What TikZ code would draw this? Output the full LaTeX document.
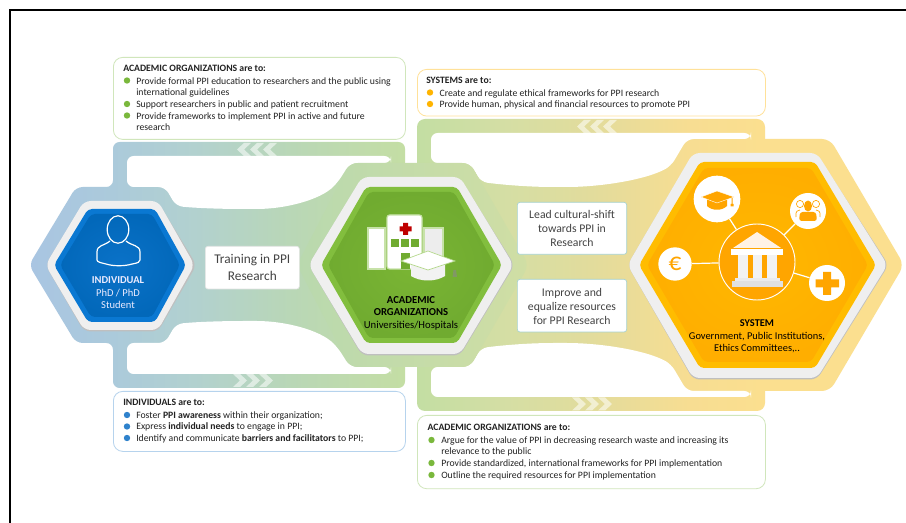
\documentclass[tikz,border=0pt]{standalone}
\usepackage{fontspec}
\setmainfont{Carlito}
\usetikzlibrary{calc}
\definecolor{blA}{HTML}{A9C5E2}
\definecolor{blB}{HTML}{ABCADB}
\definecolor{blC}{HTML}{B2D1CF}
\definecolor{blD}{HTML}{B9D7B6}
\definecolor{blE}{HTML}{C4DEA4}
\definecolor{rgA}{HTML}{C3DEA3}
\definecolor{rgB}{HTML}{D5DEA4}
\definecolor{rgC}{HTML}{E2DC9C}
\definecolor{rgD}{HTML}{F7DD92}
\definecolor{rgE}{HTML}{FBDF8F}
\definecolor{midL}{HTML}{B9D9AE}
\definecolor{midR}{HTML}{D0DEA4}
\definecolor{halo}{HTML}{EFEFEF}
\definecolor{blueo}{HTML}{0A78D2}
\definecolor{bluei}{HTML}{0268BA}
\definecolor{bluec}{HTML}{0A72C8}
\definecolor{greeno}{HTML}{82BE3E}
\definecolor{greeni}{HTML}{70AB30}
\definecolor{greenc}{HTML}{7AB534}
\definecolor{yello}{HTML}{FFBC00}
\definecolor{yelli}{HTML}{FFAE00}
\definecolor{yellc}{HTML}{FFB800}
\definecolor{orng}{HTML}{FFA500}
\definecolor{bltxt}{HTML}{2F82CC}
\definecolor{grtxt}{HTML}{7AB83C}
\definecolor{ortxt}{HTML}{FFB400}
\definecolor{txt}{HTML}{222222}
\pgfdeclarehorizontalshading{bandleft}{100bp}{color(0bp)=(blA); color(25bp)=(blA); color(36bp)=(blB); color(47bp)=(blC); color(60bp)=(blD); color(75bp)=(blE); color(100bp)=(blE)}
\pgfdeclarehorizontalshading{bandright}{100bp}{color(0bp)=(rgA); color(25bp)=(rgA); color(38bp)=(rgB); color(50bp)=(rgC); color(64bp)=(rgD); color(75bp)=(rgE); color(100bp)=(rgE)}
\tikzset{
  x=0.75pt,y=-0.75pt,
  infobox/.style={draw,line width=0.6pt,fill=white,rounded corners=7pt},
  tagbox/.style={fill=white,rounded corners=2pt,draw=#1,line width=0.5pt},
  listtext/.style={anchor=north west,inner sep=0pt,align=left,font=\fontsize{7.3}{8.75}\selectfont,text=txt},
  blt/.style={circle,fill=#1,inner sep=0pt,minimum size=4.8pt},
  hexlabel/.style={align=center,inner sep=0pt,font=\fontsize{7.9}{9.4}\selectfont},
  tagtext/.style={align=center,inner sep=0pt,text=txt!85},
  chev/.style={fill=white,fill opacity=0.55},
  link/.style={draw=white,line width=0.9pt},
  disc/.style={circle,fill=white,inner sep=0pt},
  rim/.style={draw=greeno!45!white,line width=0.9pt},
}
\newcommand{\hexagon}[6]{(#1,265) -- (#2,#3) -- (#4,#3) -- (#5,265) -- (#4,#6) -- (#2,#6) -- cycle}
\newcommand{\chevL}[2]{(#1,#2) -- (#1+7,#2) -- (#1,#2+6.5) -- (#1+7,#2+13) -- (#1,#2+13) -- (#1-7,#2+6.5) -- cycle}
\newcommand{\chevR}[2]{(#1,#2) -- (#1+7,#2) -- (#1+14,#2+6.5) -- (#1+7,#2+13) -- (#1,#2+13) -- (#1+7,#2+6.5) -- cycle}
\begin{document}
\begin{tikzpicture}
\useasboundingbox (0,0) rectangle (906,523);
\fill[white] (0,0) rectangle (906,523);
% frame
\coordinate (fa) at (9.5,523);
\coordinate (fb) at (9.5,10.3);
\coordinate (fc) at (906,10.3);
\draw[black,line width=1.5pt] (fa) -- (fb) -- (fc);

% left band
\path[shading=bandleft,rounded corners=5pt]
  (29,265) -- (76,187) -- (113,187) -- (113,142) -- (405,142) -- (405,388) -- (113,388) -- (113,343) -- (76,343) -- cycle;
\fill[white,rounded corners=5pt] (127,156) -- (391,156) -- (391,163) -- (350,163) -- (338,182)
  .. controls (320,200) and (285,209) .. (250,209) .. controls (220,209) and (195,208) .. (176,206) -- (165,187) -- (127,187) -- cycle;
\fill[white,rounded corners=5pt] (127,374) -- (391,374) -- (391,367) -- (350,367) -- (338,348)
  .. controls (320,330) and (285,321) .. (250,321) .. controls (220,321) and (195,322) .. (176,324) -- (165,343) -- (127,343) -- cycle;

% right outer hexagon, then right band over it
\fill[rgE,rounded corners=6pt] (616,265) -- (687,139) -- (830,139) -- (904,265) -- (830,391) -- (687,391) -- cycle;
\path[shading=bandright,rounded corners=6pt]
  (417,119) -- (765,119) -- (765,411) -- (417,411) -- cycle;
\fill[white,rounded corners=5pt] (431,133) -- (751,133) -- (751,139) -- (687,139) -- (671,166)
  .. controls (645,180) and (600,187) .. (560,187) .. controls (530,187) and (505,185) .. (481,182) -- (470,163) -- (431,163) -- cycle;
\fill[white,rounded corners=5pt] (431,397) -- (751,397) -- (751,391) -- (687,391) -- (671,364)
  .. controls (645,350) and (600,343) .. (560,343) .. controls (530,343) and (505,345) .. (481,348) -- (470,367) -- (431,367) -- cycle;

% chevrons
\foreach \cx in {244,257,270} \fill[chev] \chevL{\cx}{143};
\foreach \cx in {584,597,610} \fill[chev] \chevL{\cx}{120};
\foreach \cx in {233,246,259} \fill[chev] \chevR{\cx}{374};
\foreach \cx in {572,585,598} \fill[chev] \chevR{\cx}{397.5};

% centre outer hexagon
\path[left color=midL,right color=midR,rounded corners=6pt] \hexagon{297}{350}{163}{470}{529}{367};

% left hex
\fill[black!25,rounded corners=5pt] \hexagon{45.5}{84}{202}{158}{196.5}{331.5};
\fill[halo,rounded corners=5pt] \hexagon{45.5}{84}{201}{158}{194.5}{330};
\fill[blueo,rounded corners=3pt] \hexagon{54}{88}{209}{155}{186}{322};
\path[inner color=bluec,outer color=bluei,rounded corners=3pt] \hexagon{60}{91}{214}{152}{180}{317};
% centre hex
\fill[black!25,rounded corners=5pt] \hexagon{308.5}{362}{178}{460}{514.5}{355.5};
\fill[halo,rounded corners=5pt] \hexagon{308.5}{362}{177}{460}{513.5}{354};
\fill[greeno,rounded corners=3pt] \hexagon{321}{366}{187}{457}{502}{343};
\path[inner color=greenc,outer color=greeni,rounded corners=3pt] \hexagon{328}{369}{192}{454}{495}{338};
% right hex
\fill[black!25,rounded corners=5pt] \hexagon{627.5}{693}{154}{817}{888.5}{379.5};
\fill[halo,rounded corners=5pt] \hexagon{627.5}{693}{153}{817}{887.5}{378};
\fill[yello,rounded corners=3pt] \hexagon{639}{700}{162}{815}{876}{368};
\path[inner color=yellc,outer color=yelli,rounded corners=3pt] \hexagon{647}{704}{168}{811}{868}{362};

% info boxes
\node[infobox,draw=grtxt!35,minimum width=219pt,minimum height=61.5pt,anchor=north west] (boxA) at (113,57) {};
\node[infobox,draw=bltxt!35,minimum width=219pt,minimum height=45pt,anchor=north west] (boxB) at (113,391) {};
\node[infobox,draw=ortxt!40,minimum width=261pt,minimum height=35pt,anchor=north west] (boxC) at (417,69) {};
\node[infobox,draw=grtxt!35,minimum width=261pt,minimum height=55pt,anchor=north west] (boxD) at (417,415) {};

\node[listtext] (headA) at (123,64.8) {\textbf{ACADEMIC ORGANIZATIONS are to:}};
\node[listtext] (listA) at (136,77) {Provide formal PPI education to researchers and the public using\\international guidelines\\Support researchers in public and patient recruitment\\Provide frameworks to implement PPI in active and future\\research};
\foreach \by/\bn in {80.5/a1,104/a2,115.5/a3} \node[blt=grtxt] (\bn) at (127,\by) {};

\node[listtext] (headB) at (123,399) {\textbf{INDIVIDUALS are to:}};
\node[listtext] (listB) at (136,411.3) {Foster \textbf{PPI awareness} within their organization;\\Express \textbf{individual needs} to engage in PPI;\\Identify and communicate \textbf{barriers and facilitators} to PPI;};
\foreach \by/\bn in {415/b1,426.5/b2,438/b3} \node[blt=bltxt] (\bn) at (127,\by) {};

\node[listtext] (headC) at (426,77) {\textbf{SYSTEMS are to:}};
\node[listtext] (listC) at (439.3,89) {Create and regulate ethical frameworks for PPI research\\Provide human, physical and financial resources to promote PPI};
\foreach \by/\bn in {92.5/c1,104/c2} \node[blt=ortxt] (\bn) at (430,\by) {};

\node[listtext] (headD) at (427.3,424) {\textbf{ACADEMIC ORGANIZATIONS are to:}};
\node[listtext] (listD) at (441,436.3) {Argue for the value of PPI in decreasing research waste and increasing its\\relevance to the public\\Provide standardized, international frameworks for PPI implementation\\Outline the required resources for PPI implementation};
\foreach \by/\bn in {440/d1,463/d2,475/d3} \node[blt=grtxt] (\bn) at (431.5,\by) {};

% tag boxes
\node[tagbox=white!90!black,minimum width=70.5pt,minimum height=32pt,anchor=north west] (tagA) at (205,246) {};
\node[tagtext,font=\fontsize{10}{12.5}\selectfont] (tagAt) at (tagA.center) {Training in PPI\\Research};
\node[tagbox=teal!35,minimum width=82pt,minimum height=39pt,anchor=north west] (tagB) at (517,202) {};
\node[tagtext,font=\fontsize{8.8}{10.5}\selectfont] (tagBt) at (tagB.center) {Lead cultural-shift\\towards PPI in\\Research};
\node[tagbox=teal!35,minimum width=82pt,minimum height=39.5pt,anchor=north west] (tagC) at (517,279) {};
\node[tagtext,font=\fontsize{8.8}{10.5}\selectfont] (tagCt) at ([yshift=-0.6pt]tagC.center) {Improve and\\equalize resources\\for PPI Research};

% person icon
\draw[white,line width=0.9pt] (118,229.5) ellipse (10.8 and 13.7);
\draw[white,line width=0.9pt,rounded corners=3pt] (110,241) .. controls (104,246) and (97,245) .. (97,256)
  .. controls (97,262) and (102,263) .. (106,264) .. controls (114,266) and (124,266) .. (132,264)
  .. controls (137,263) and (140,262) .. (140,256) .. controls (140,245) and (132,246) .. (126,241);
\node[hexlabel,text=white!92!blue] (lblA) at (118,293) {\textbf{INDIVIDUAL}\\PhD / PhD\\Student};

% hospital icon
\fill[white,rim] (368,228) rectangle (385,269);
\fill[white!93!black,rim] (424,228) rectangle (443,262);
\fill[white,rim,rounded corners=2pt] (387,215) -- (422,215) -- (422,269) -- (387,269) -- cycle;
\fill[red!75!black] (403,223) rectangle (408,235) (399.5,226.5) rectangle (411.5,231.5);
\foreach \gx in {390.7,400.7,411} \fill[greeni] (\gx,239) rectangle +(8.3,8.5);
\fill[greeni] (400.5,253) rectangle (410,269);
% mortar board (centre)
\fill[white!95!black] (411,262) -- (411,276) .. controls (420,282) and (436,282) .. (445,276) -- (445,262) -- cycle;
\draw[greeno!60!white,fill=white,line width=0.5pt] (401,261) -- (428,251) -- (455,261) -- (428,270) -- cycle;
\fill[greeno!40!gray] (453.5,270) -- (456,270) -- (457,277) -- (452.5,277) -- cycle;
\node[hexlabel,text=black,font=\fontsize{8}{9.4}\selectfont] (lblB) at (411,313) {\textbf{ACADEMIC}\\\textbf{ORGANIZATIONS}\\Universities/Hospitals};

% system icon
\node[circle,fill=orng,draw=white,line width=0.7pt,minimum size=57pt,inner sep=0pt] (hub) at (757,262) {};
\node[disc,minimum size=35pt] (capd) at (717,199) {};
\node[disc,minimum size=27pt] (pepd) at (808,211) {};
\node[disc,minimum size=25pt] (eurd) at (675,264) {};
\node[disc,minimum size=27pt] (plsd) at (827,283) {};
\draw[link] (hub) -- (capd);
\draw[link] (hub) -- (pepd);
\draw[link] (hub) -- (eurd);
\draw[link] (hub) -- (plsd);
% temple
\fill[white!90!orange] (757,232) -- (781,248) -- (733,248) -- cycle;
\fill[white] (731,249) rectangle (783,255);
\foreach \tx in {738,752.5,767} \fill[white!95!black] (\tx,255) rectangle +(9.5,23);
\fill[white!92!black] (735,278) rectangle (780,281);
\fill[white!88!black] (732,281) rectangle (783,287);
% cap icon
\fill[orng] (707,199) -- (707,206) .. controls (712,211) and (722,211) .. (727,206) -- (727,199) -- cycle;
\fill[orng,draw=white,line width=0.3pt] (701,197) -- (717,191) -- (734,197) -- (717,203) -- cycle;
\fill[orng] (731.5,198) rectangle (732.5,204) (730.5,204) rectangle (733.5,206.5);
% people icon
\draw[orng,line width=0.5pt] (800,204) circle (3.6) (816,204) circle (3.6);
\draw[orng,line width=0.5pt] (796,217) .. controls (795,211) and (798,210) .. (800,210);
\draw[orng,line width=0.5pt] (820,217) .. controls (821,211) and (818,210) .. (816,210);
\fill[orng] (808,206) ellipse (4 and 5.5);
\fill[orng,rounded corners=2pt] (800,212) -- (816,212) -- (817,221) -- (799,221) -- cycle;
% euro
\node[inner sep=0pt,text=orng,font=\fontsize{19}{19}\selectfont] (eur) at (675,264) {€};
% plus
\fill[orng] (823,272) rectangle (831,295) (815.5,279.5) rectangle (839,287.5);
\node[hexlabel,text=black,font=\fontsize{7.8}{9.4}\selectfont] (lblC) at (757,336.5) {\textbf{SYSTEM}\\Government, Public Institutions,\\Ethics Committees,..};
\end{tikzpicture}
\end{document}
